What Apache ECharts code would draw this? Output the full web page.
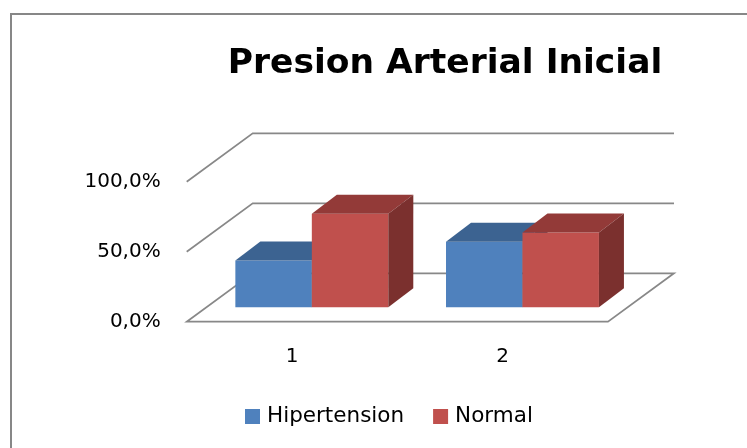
<!DOCTYPE html>
<html>
<head>
<meta charset="utf-8">
<script src="https://cdn.jsdelivr.net/npm/echarts@6/dist/echarts.min.js"></script>
<style>
html,body{margin:0;padding:0;background:#fff;}
#main{width:747px;height:448px;}
</style>
</head>
<body>
<div id="main"></div>
<script>
// ---- data ----
const categories = ['1', '2'];
const hipertension = [33.3, 46.7];
const normal = [66.7, 53.3];
const yTicks = [0, 50, 100];
const seriesNames = ['Hipertension', 'Normal'];

// ---- style ----
const FONT = '"DejaVu Sans", sans-serif';
const FLOOR_DX = 66, FLOOR_DY = -48.4;   // depth of the floor / back wall
const BAR_OFF = 0.3;                     // bar front plane depth fraction
const BAR_DX = 25, BAR_DY = -19;         // bar depth
const BAR_FRAC = 0.363;                  // bar width as fraction of band
const colors = [
  { front: '#4F81BD', top: '#3C6391', side: '#2E4C70' },
  { front: '#C0504D', top: '#933A38', side: '#7B302E' }
];

const chart = echarts.init(document.getElementById('main'));

function gridRender(params, api) {
  const v = api.value(0);
  const cs = params.coordSys;
  const y = api.coord([0, v])[1];
  const xl = cs.x, xr = cs.x + cs.width;
  const style = { stroke: '#888888', lineWidth: 1.7, fill: null };
  if (v === 0) {
    return {
      type: 'polygon',
      shape: { points: [[xl, y], [xl + FLOOR_DX, y + FLOOR_DY], [xr + FLOOR_DX, y + FLOOR_DY], [xr, y]] },
      style: style
    };
  }
  return {
    type: 'polyline',
    shape: { points: [[xl, y], [xl + FLOOR_DX, y + FLOOR_DY], [xr + FLOOR_DX, y + FLOOR_DY]] },
    style: style
  };
}

function makeBarRender(sIdx) {
  return function (params, api) {
    const i = api.value(0);
    const val = api.value(1);
    const base = api.coord([i, 0]);
    const topPt = api.coord([i, val]);
    const band = api.size([1, 0])[0];
    const w = band * BAR_FRAC;
    const ox = FLOOR_DX * BAR_OFF, oy = FLOOR_DY * BAR_OFF;
    const x0 = base[0] - w + sIdx * w + ox;
    const x1 = x0 + w;
    const yb = base[1] + oy;
    const yt = topPt[1] + oy;
    const c = colors[sIdx];
    return {
      type: 'group',
      children: [
        { type: 'polygon', shape: { points: [[x0, yb], [x0, yt], [x1, yt], [x1, yb]] }, style: { fill: c.front } },
        { type: 'polygon', shape: { points: [[x0, yt], [x0 + BAR_DX, yt + BAR_DY], [x1 + BAR_DX, yt + BAR_DY], [x1, yt]] }, style: { fill: c.top } },
        { type: 'polygon', shape: { points: [[x1, yt], [x1 + BAR_DX, yt + BAR_DY], [x1 + BAR_DX, yb + BAR_DY], [x1, yb]] }, style: { fill: c.side } }
      ]
    };
  };
}

const seriesData = [hipertension, normal];

chart.setOption({
  animation: false,
  backgroundColor: '#ffffff',
  graphic: [{
    type: 'rect', z: 100,
    shape: { x: 11, y: 14, width: 760, height: 460 },
    style: { fill: null, stroke: '#878787', lineWidth: 2 }
  }],
  title: {
    text: 'Presion Arterial Inicial',
    left: 440, top: 42, textAlign: 'center',
    textStyle: { fontFamily: FONT, fontWeight: 'bold', fontSize: 34.5, color: '#000' }
  },
  legend: {
    data: seriesNames,
    left: 245, top: 405.5, padding: 0,
    itemWidth: 15, itemHeight: 15, itemGap: 29,
    icon: 'rect',
    textStyle: { fontFamily: FONT, fontSize: 21.5, color: '#000', padding: [0, 0, 0, 2] }
  },
  grid: { left: 186.7, right: 139, top: 181.7, bottom: 126.3 },
  xAxis: {
    type: 'category', data: categories,
    axisLine: { show: false }, axisTick: { show: false },
    axisLabel: { fontFamily: FONT, fontSize: 20, color: '#000', margin: 25 }
  },
  yAxis: {
    type: 'value', min: 0, max: 100, interval: 50,
    axisLine: { show: false }, axisTick: { show: false }, splitLine: { show: false },
    axisLabel: {
      fontFamily: FONT, fontSize: 20, color: '#000', margin: 26,
      formatter: v => v.toFixed(1).replace('.', ',') + '%'
    }
  },
  series: [
    {
      type: 'custom', name: '_grid', silent: true, z: 1,
      data: yTicks.map(v => [v]),
      encode: { y: 0 },
      renderItem: gridRender
    },
    ...seriesNames.map((name, s) => ({
      type: 'custom', name: name, z: 2 + s,
      itemStyle: { color: colors[s].front },
      data: seriesData[s].map((v, i) => [i, v]),
      encode: { x: 0, y: 1 },
      renderItem: makeBarRender(s)
    }))
  ]
});
</script>
</body>
</html>
